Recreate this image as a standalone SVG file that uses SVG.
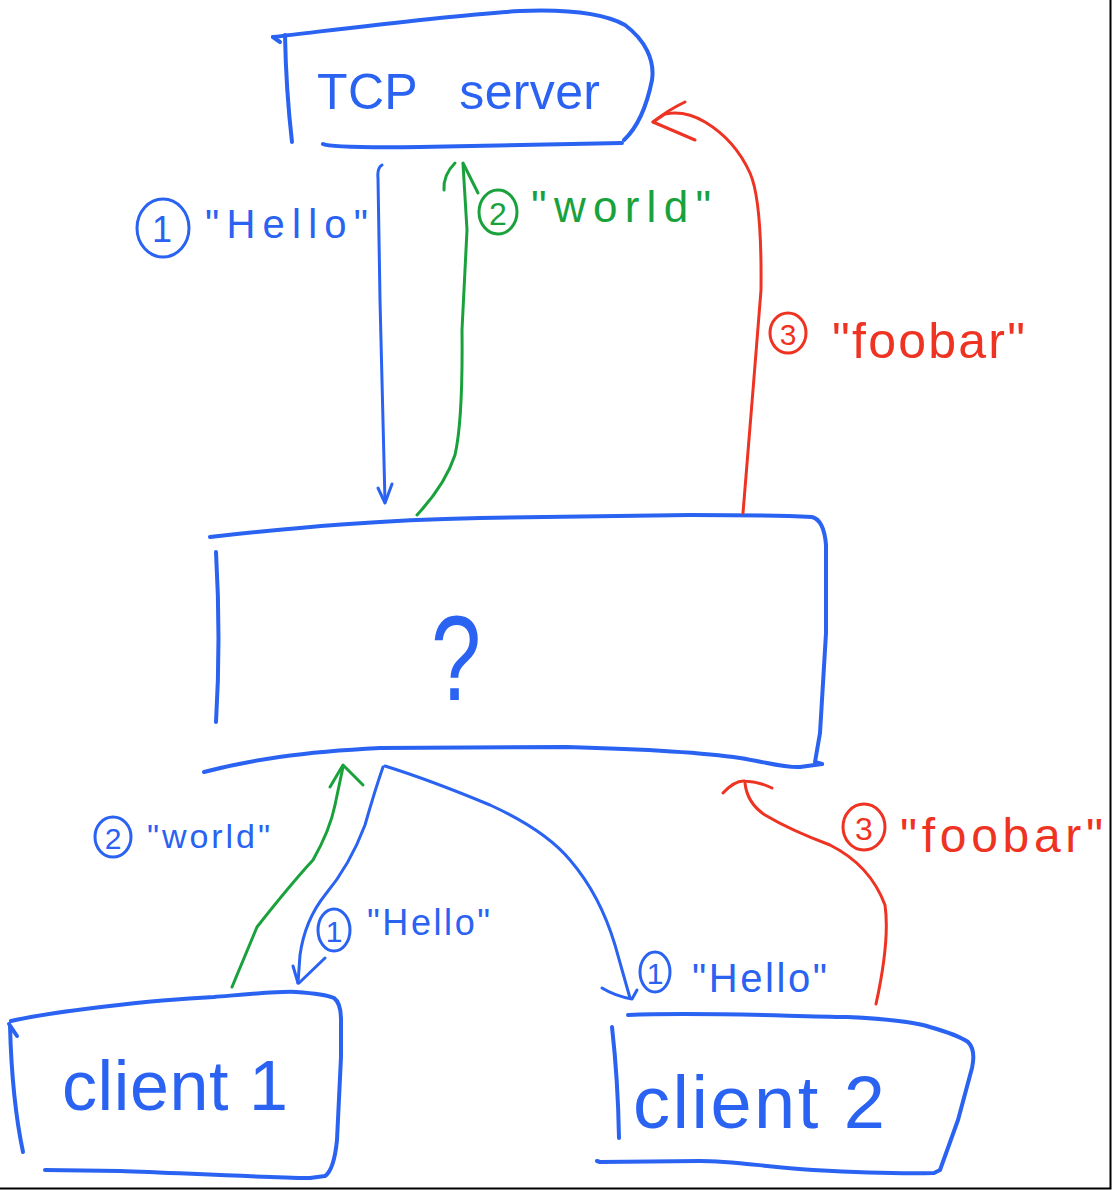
<svg xmlns="http://www.w3.org/2000/svg" width="1112" height="1190" viewBox="0 0 1112 1190">
<style>
  .ink { fill: none; stroke-linecap: round; stroke-linejoin: round; }
  .box { stroke: #2a62f2; stroke-width: 4; }
  .b { stroke: #2a62f2; stroke-width: 3; }
  .g { stroke: #19a23c; stroke-width: 3; }
  .r { stroke: #ef3323; stroke-width: 3; }
  text { font-family: "Liberation Sans", "Open Sans", sans-serif; }
  .tb { fill: #2a62f2; }
  .tg { fill: #19a23c; }
  .tr { fill: #ef3323; }
  .num { text-anchor: middle; }
</style>
<rect width="1112" height="1190" fill="#ffffff"/>
<path d="M1110.5,0 V1188.5 H0" fill="none" stroke="#000" stroke-width="2"/>

<g id="node-tcp-server">
  <path class="ink box" d="M273,37 C350,28 450,15 520,11 C570,9 605,14 625,25 C645,40 655,60 652,80 C648,100 640,125 624,140"/>
  <path class="ink box" d="M273,37 L280,42 M285,35 Q286,90 292,142"/>
  <path class="ink box" d="M323,144 Q330,148 420,147 L622,143"/>
  <text class="tb" x="317" y="109" font-size="50" word-spacing="28" textLength="283" lengthAdjust="spacing">TCP server</text>
</g>

<g id="node-unknown">
  <path class="ink box" d="M210,537 C300,527 380,520 480,518 L690,515 C740,515 790,516 812,517 Q824,520 826,545 L826,633 L820,733 L815,762 L822,764"/>
  <path class="ink box" d="M216,552 Q221,640 216,722"/>
  <path class="ink box" d="M204,772 C250,760 300,752 380,748 L567,747 C640,749 700,752 740,758 C770,763 785,768 800,767 L822,764"/>
  <text class="tb" x="0" y="0" font-size="120" text-anchor="middle" transform="translate(456,700) scale(0.75,1)">?</text>
</g>

<g id="node-client1">
  <path class="ink box" d="M11,1021 C50,1012 150,1000 214,997 C250,994 280,991 296,992 Q325,994 334,998 Q341,1003 341,1020 L341,1057 L337,1140 Q334,1170 325,1176 L310,1178 C250,1177 180,1173 120,1171 L45,1170"/>
  <path class="ink box" d="M9,1024 L17,1036 M10,1026 Q12,1100 23,1152"/>
  <text class="tb" x="62" y="1110" font-size="70" textLength="226" lengthAdjust="spacing">client 1</text>
</g>

<g id="node-client2">
  <path class="ink box" d="M628,1015 C700,1012 780,1016 847,1017 C890,1019 915,1022 930,1027 Q958,1035 968,1042 Q976,1050 972,1068 L958,1120 L940,1170 L934,1173 C900,1174 850,1172 813,1170 C760,1166 730,1161 700,1161 L600,1162 L597,1161"/>
  <path class="ink box" d="M612,1027 Q618,1080 619,1138"/>
  <text class="tb" x="633" y="1128" font-size="74" textLength="252" lengthAdjust="spacing">client 2</text>
</g>

<g id="connectors">
  <path class="ink b" d="M382,165 Q377,168 378,178 L380,300 Q383,420 385,502"/>
  <path class="ink b" d="M378,488 L385,503 L392,484"/>
  <path class="ink g" d="M417,515 Q445,485 455,455 Q463,420 462,330 L467,230 L463,164"/>
  <path class="ink g" d="M455,163 Q443,175 444,190 M463,163 L478,193"/>
  <path class="ink r" d="M743,513 L753,390 L761,290 Q762,200 750,173 Q735,140 705,122 Q685,110 665,114 L653,122"/>
  <path class="ink r" d="M685,102 Q668,110 653,122 L695,140"/>
  <path class="ink g" d="M232,987 L257,927 Q290,885 313,860 Q330,830 335,805 L343,767"/>
  <path class="ink g" d="M330,787 L343,765 L363,785"/>
  <path class="ink b" d="M383,767 Q375,790 365,825 Q350,865 325,895 Q305,920 300,955 L298,983"/>
  <path class="ink b" d="M325,958 L299,983 M293,966 L298,983"/>
  <path class="ink b" d="M385,766 Q430,780 490,805 Q545,830 570,860 Q600,895 615,945 L630,998"/>
  <path class="ink b" d="M602,988 Q615,996 632,999 L637,990"/>
  <path class="ink r" d="M876,1004 Q890,940 885,905 Q870,865 830,845 Q790,830 765,815 Q747,803 745,783"/>
  <path class="ink r" d="M723,793 Q735,780 745,781 Q760,782 772,788"/>
</g>

<g id="labels">
  <ellipse class="ink b" cx="163" cy="228" rx="26" ry="29"/>
  <text class="tb num" x="162" y="242" font-size="36">1</text>
  <text class="tb" x="205" y="238" font-size="40" textLength="163" lengthAdjust="spacing">"Hello"</text>

  <ellipse class="ink g" cx="498" cy="212" rx="19" ry="22"/>
  <text class="tg num" x="498" y="225" font-size="32">2</text>
  <text class="tg" x="531" y="222" font-size="44" textLength="180" lengthAdjust="spacing">"world"</text>

  <ellipse class="ink r" cx="788" cy="333" rx="18" ry="20"/>
  <text class="tr num" x="788" y="345" font-size="30">3</text>
  <text class="tr" x="832" y="358" font-size="50" textLength="193" lengthAdjust="spacing">"foobar"</text>

  <ellipse class="ink b" cx="113" cy="837" rx="18" ry="20"/>
  <text class="tb num" x="113" y="849" font-size="30">2</text>
  <text class="tb" x="147" y="848" font-size="34" textLength="123" lengthAdjust="spacing">"world"</text>

  <ellipse class="ink b" cx="334" cy="930" rx="16" ry="21"/>
  <text class="tb num" x="334" y="942" font-size="30">1</text>
  <text class="tb" x="367" y="935" font-size="36" textLength="123" lengthAdjust="spacing">"Hello"</text>

  <ellipse class="ink b" cx="655" cy="972" rx="15" ry="20"/>
  <text class="tb num" x="655" y="984" font-size="30">1</text>
  <text class="tb" x="692" y="992" font-size="40" textLength="135" lengthAdjust="spacing">"Hello"</text>

  <ellipse class="ink r" cx="864" cy="827" rx="21" ry="23"/>
  <text class="tr num" x="864" y="840" font-size="32">3</text>
  <text class="tr" x="900" y="852" font-size="48" textLength="203" lengthAdjust="spacing">"foobar"</text>
</g>
</svg>
